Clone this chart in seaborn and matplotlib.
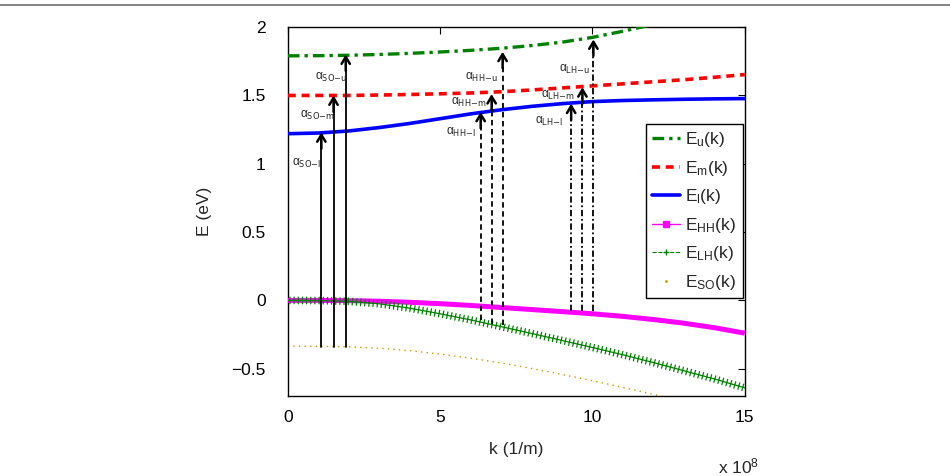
import numpy as np
import pandas as pd
import matplotlib
matplotlib.use("Agg")
import matplotlib.pyplot as plt
import matplotlib.lines as mlines
import matplotlib.patheffects as pe
import seaborn as sns

# band energies (k in units of 1e8 1/m, E in eV)
k_c = [0, 1, 2, 3, 4, 5, 6, 7, 8, 9, 10, 11, 12, 13, 14, 15]
E_u = [1.79, 1.791, 1.794, 1.80, 1.808, 1.818, 1.83, 1.845, 1.865, 1.89,
       1.925, 1.97, 2.02, 2.075, 2.13, 2.19]
E_m = [1.50, 1.50, 1.50, 1.503, 1.507, 1.512, 1.518, 1.527, 1.54, 1.555,
       1.57, 1.585, 1.60, 1.615, 1.633, 1.653]
E_l = [1.22, 1.225, 1.24, 1.265, 1.295, 1.33, 1.365, 1.395, 1.42, 1.44,
       1.455, 1.463, 1.468, 1.472, 1.475, 1.477]

k_v = [0, 1, 2, 3, 4, 5, 6, 7, 8, 9, 10, 11, 12, 13, 14, 15]
E_HH = [0.0, 0.0, -0.002, -0.006, -0.014, -0.024, -0.037, -0.052, -0.067,
        -0.082, -0.098, -0.117, -0.14, -0.167, -0.2, -0.24]
E_LH = [0.0, -0.001, -0.007, -0.025, -0.057, -0.098, -0.143, -0.192, -0.242,
        -0.293, -0.345, -0.398, -0.455, -0.515, -0.575, -0.64]
E_SO = [-0.335, -0.336, -0.34, -0.35, -0.368, -0.393, -0.423, -0.458, -0.498,
        -0.542, -0.588, -0.637, -0.688, -0.74, -0.79, -0.84]

# transition arrows: k position, start energy, end energy
so_k = [1.1, 1.5, 1.9]
so_start = [-0.34, -0.34, -0.34]
so_end = [1.23, 1.50, 1.80]
so_lbl = ["SO\u2212l", "SO\u2212m", "SO\u2212u"]

hh_k = [6.33, 6.69, 7.05]
hh_start = [-0.14, -0.17, -0.18]
hh_end = [1.38, 1.51, 1.82]
hh_lbl = ["HH\u2212l", "HH\u2212m", "HH\u2212u"]

lh_k = [9.3, 9.67, 10.03]
lh_start = [-0.08, -0.08, -0.08]
lh_end = [1.44, 1.56, 1.91]
lh_lbl = ["LH\u2212l", "LH\u2212m", "LH\u2212u"]

xticks = [0, 5, 10, 15]
yticks = [-0.5, 0, 0.5, 1, 1.5, 2]

sns.set_style("white")
plt.rcParams["font.family"] = ["Liberation Sans", "DejaVu Sans"]
plt.rcParams["mathtext.default"] = "regular"

GREEN, RED, BLUE = "#008000", "#FF0000", "#0000FF"
MAG, SO_C = "#FF00FF", "#CC9900"
DASHDOT = (0, (3.5, 1.5, 1, 1.5))

cond = pd.DataFrame({"k": k_c, "u": E_u, "m": E_m, "l": E_l})
val = pd.DataFrame({"k": k_v, "HH": E_HH, "LH": E_LH, "SO": E_SO})

fig = plt.figure(figsize=(9.5, 4.76), dpi=100)
ax = fig.add_axes([0.303, 0.168, 0.481, 0.775])

sns.lineplot(data=cond, x="k", y="u", ax=ax, color=GREEN, lw=2.4,
             linestyle=DASHDOT, zorder=3)
sns.lineplot(data=cond, x="k", y="m", ax=ax, color=RED, lw=2.6,
             linestyle=(0, (2.2, 1.6)), zorder=3)
sns.lineplot(data=cond, x="k", y="l", ax=ax, color=BLUE, lw=2.6, zorder=3)
sns.lineplot(data=val, x="k", y="SO", ax=ax, color=SO_C, lw=1.0,
             linestyle=(0, (1, 3)), zorder=2)
# dense square markers merge into a thick magenta band
sns.lineplot(data=val, x="k", y="HH", ax=ax, color=MAG, lw=3.6, zorder=3,
             solid_capstyle="butt")
# "+" markers drawn as ticks across the LH line
sns.lineplot(data=val, x="k", y="LH", ax=ax, color=GREEN, lw=0.9, zorder=3.5,
             path_effects=[pe.Normal(),
                           pe.TickedStroke(angle=90, spacing=3.0, length=0.8,
                                           linewidth=0.9),
                           pe.TickedStroke(angle=-90, spacing=3.0, length=0.8,
                                           linewidth=0.9)])


def arrows(ks, starts, ends, ls):
    for k, s, e in zip(ks, starts, ends):
        ax.plot([k, k], [s, e - 0.03], color="black", lw=1.3, ls=ls, zorder=4)
        ax.annotate("", xy=(k, e), xytext=(k, e - 0.12),
                    arrowprops=dict(arrowstyle="->,head_length=0.5,head_width=0.3",
                                    color="black", lw=1.8, shrinkA=0, shrinkB=0),
                    zorder=5)


arrows(so_k, so_start, so_end, "-")
arrows(hh_k, hh_start, hh_end, (0, (3, 2)))
arrows(lh_k, lh_start, lh_end, DASHDOT)

lbl_pos = [(0.12, 1.00), (0.4, 1.35), (0.9, 1.63),
           (5.2, 1.23), (5.35, 1.45), (5.8, 1.63),
           (8.1, 1.31), (8.3, 1.50), (8.9, 1.69)]
for (x, y), t in zip(lbl_pos, so_lbl + hh_lbl + lh_lbl):
    ax.text(x, y, r"$\alpha_{\text{" + t + "}}$", fontsize=8.5, va="center",
            ha="left", zorder=6)

ax.set_xlim(0, 15)
ax.set_ylim(-0.7, 2)
ax.set_xticks(xticks)
ax.set_yticks(yticks)
ax.set_xticklabels([str(t) for t in xticks])
ax.set_yticklabels(["\u22120.5", "0", "0.5", "1", "1.5", "2"])
ax.tick_params(direction="in", length=5, width=0.8, top=True, right=True,
               labelsize=12.5, colors="black")
ax.tick_params(axis="y", pad=16)
ax.tick_params(axis="x", pad=10)
for sp in ax.spines.values():
    sp.set_color("black")
    sp.set_linewidth(1.0)
ax.set_xlabel("k (1/m)", fontsize=12.5, labelpad=12)
ax.set_ylabel("E (eV)", fontsize=12.5, labelpad=14)
fig.text(0.756, 0.0, r"x 10$^{8}$", fontsize=12.5, ha="left", va="bottom")

handles = [
    mlines.Line2D([], [], color=GREEN, lw=2.4, ls=DASHDOT),
    mlines.Line2D([], [], color=RED, lw=2.6, ls=(0, (2.2, 1.6))),
    mlines.Line2D([], [], color=BLUE, lw=2.6),
    mlines.Line2D([], [], color=MAG, lw=1.0, marker="s", markersize=4),
    mlines.Line2D([], [], color=GREEN, lw=0.8, ls="--", marker="+",
                  markersize=5),
    mlines.Line2D([], [], color=SO_C, lw=0, marker=".", markersize=2),
]
labels = [r"E$_{u}$(k)", r"E$_{m}$(k)", r"E$_{l}$(k)",
          r"E$_{HH}$(k)", r"E$_{LH}$(k)", r"E$_{SO}$(k)"]
leg = ax.legend(handles, labels, loc="upper right", bbox_to_anchor=(0.995, 0.737),
                fontsize=12.5, handlelength=1.6, handletextpad=0.3,
                labelspacing=0.55, borderpad=0.35, fancybox=False,
                framealpha=1, edgecolor="black", borderaxespad=0)
leg.get_frame().set_linewidth(1.0)

fig.add_artist(mlines.Line2D([0, 1], [0.99, 0.99], transform=fig.transFigure,
                             color="#888888", lw=1.5))

fig.savefig("out.png", dpi=100, facecolor="white")
